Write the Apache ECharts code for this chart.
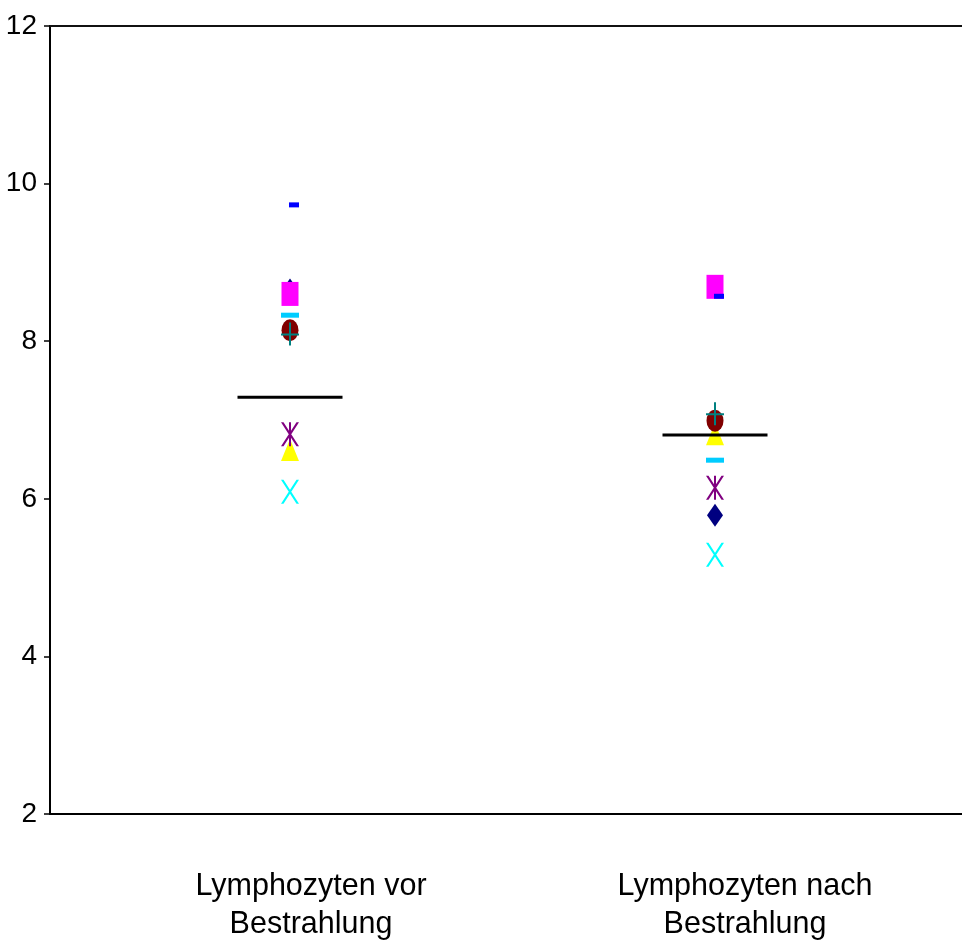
<!DOCTYPE html>
<html>
<head>
<meta charset="utf-8">
<script src="https://cdn.jsdelivr.net/npm/echarts@6/dist/echarts.min.js"></script>
<style>html,body{margin:0;padding:0;background:#fff;}#c{width:962px;height:949px;}</style>
</head>
<body>
<div id="c"></div>
<script>
// ---- data ----
var categories = ['Lymphozyten vor\nBestrahlung', 'Lymphozyten nach\nBestrahlung'];
var yTicks = [2, 4, 6, 8, 10, 12];
var seriesDiamond = [8.65, 5.79];
var seriesSquare = [8.60, 8.69];
var seriesTriangle = [6.62, 6.82];
var seriesX = [6.09, 5.29];
var seriesStar = [6.82, 6.14];
var seriesCircle = [8.14, 6.99];
var seriesPlus = [8.09, 7.08];
var seriesBlueDash = [9.73, 8.57];
var seriesSkyDash = [8.33, 6.49];
var means = [7.29, 6.81];

// ---- build ----
function pts(vals) { return vals.map(function (v, i) { return [i + 1, v]; }); }

var FONT = '"Liberation Sans", Arial, sans-serif';
var P_PLUS = 'path://M8,0L10,0L10,23L8,23ZM0,11L18,11L18,13L0,13Z';
var P_X = 'path://M0,0L2.5,0L18,24L15.5,24ZM15.5,0L18,0L2.5,24L0,24Z';
var P_STAR = 'path://M0,0L2.5,0L18,24L15.5,24ZM15.5,0L18,0L2.5,24L0,24ZM8,0L10,0L10,24L8,24Z';
var P_ELL = 'path://M0,11A8.5,11,0,1,0,17,11A8.5,11,0,1,0,0,11Z';

function sc(name, vals, symbol, size, color, extra) {
  var s = {
    type: 'scatter', name: name, xAxisIndex: 0, yAxisIndex: 0,
    data: pts(vals), symbol: symbol, symbolSize: size,
    itemStyle: { color: color, opacity: 1 },
    emphasis: { disabled: true }, z: 3
  };
  if (extra) for (var k in extra) s[k] = extra[k];
  return s;
}

var XMIN = 0.43529, XMAX = 0.43529 + 912 / 425;

var chart = echarts.init(document.getElementById('c'), null, { renderer: 'canvas' });
chart.setOption({
  animation: false,
  backgroundColor: '#ffffff',
  grid: [
    { left: 50, top: 26, width: 912, bottom: 135 },
    { left: 94, top: 26, width: 872, bottom: 135 }
  ],
  xAxis: [
    { type: 'value', gridIndex: 0, min: XMIN, max: XMAX,
      axisLine: { show: true, onZero: false, lineStyle: { color: '#000', width: 2 } },
      axisTick: { show: false }, axisLabel: { show: false }, splitLine: { show: false } },
    { type: 'value', gridIndex: 0, position: 'top', min: XMIN, max: XMAX,
      axisLine: { show: true, onZero: false, lineStyle: { color: '#111', width: 2 } },
      axisTick: { show: false }, axisLabel: { show: false }, splitLine: { show: false } },
    { type: 'category', gridIndex: 1, data: categories, boundaryGap: true,
      axisLine: { show: false }, axisTick: { show: false }, splitLine: { show: false },
      axisLabel: { show: true, interval: 0, margin: 54, color: '#000',
        fontFamily: FONT, fontSize: 30.5, lineHeight: 38, align: 'center' } }
  ],
  yAxis: [
    { type: 'value', gridIndex: 0, min: 2, max: 12, interval: 2,
      axisLine: { show: true, onZero: false, lineStyle: { color: '#000', width: 2 } },
      axisTick: { show: true, inside: false, length: 6, lineStyle: { color: '#000', width: 1.5 } },
      axisLabel: { show: true, margin: 13, color: '#000', fontFamily: FONT, fontSize: 28,
        formatter: function (v) { return yTicks.indexOf(v) >= 0 ? String(v) : ''; } },
      splitLine: { show: false } },
    { type: 'value', gridIndex: 1, min: 2, max: 12, show: false }
  ],
  series: [
    sc('Diamond', seriesDiamond, 'diamond', [16, 23], '#000080'),
    sc('Square', seriesSquare, 'rect', [17, 24], '#FF00FF'),
    sc('Triangle', seriesTriangle, 'triangle', [18, 22], '#FFFF00'),
    sc('X', seriesX, P_X, [18, 24], '#00FFFF'),
    sc('Star', seriesStar, P_STAR, [18, 24], '#800080'),
    sc('Circle', seriesCircle, P_ELL, [17, 22], '#800000'),
    sc('Plus', seriesPlus, P_PLUS, [18, 23], '#008080'),
    sc('BlueDash', seriesBlueDash, 'rect', [10, 5], '#0000FF', { symbolOffset: [4, 0] }),
    sc('SkyDash', seriesSkyDash, 'rect', [18, 5], '#00CCFF'),
    sc('Mittelwert', means, 'rect', [105, 3], '#000000', { z: 4 })
  ]
});
</script>
</body>
</html>
